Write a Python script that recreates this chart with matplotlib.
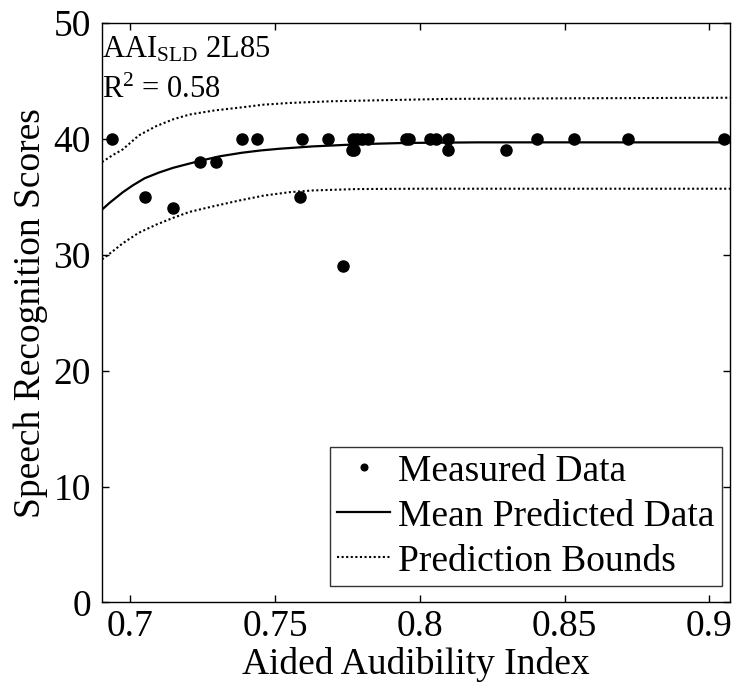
import matplotlib
matplotlib.use("Agg")
import matplotlib.pyplot as plt

plt.rcParams['font.family'] = ['Liberation Serif', 'DejaVu Serif']
plt.rcParams['mathtext.fontset'] = 'custom'
plt.rcParams['mathtext.rm'] = 'Liberation Serif'
plt.rcParams['mathtext.it'] = 'Liberation Serif:italic'

# Measured data
meas_x = [0.6939, 0.7050, 0.7147, 0.7240, 0.7298, 0.7385, 0.7439, 0.7595, 0.7588,
          0.7683, 0.7735, 0.7769, 0.7782, 0.7799, 0.7820, 0.7766, 0.7772,
          0.7954, 0.7963, 0.8034, 0.8055, 0.8099, 0.8096, 0.8297, 0.8403,
          0.8531, 0.8719, 0.9050]
meas_y = [40, 35, 34, 38, 38, 40, 40, 40, 35,
          40, 29, 40, 40, 40, 40, 39, 39,
          40, 40, 40, 40, 40, 39, 39, 40,
          40, 40, 40]

# Mean predicted curve
mean_x = [0.6903, 0.6930, 0.6975, 0.7010, 0.7050, 0.7100, 0.7148, 0.7240, 0.7310,
          0.7385, 0.7450, 0.7516, 0.7630, 0.7800, 0.7950, 0.8200, 0.8600, 0.9071]
mean_y = [33.9, 34.5, 35.4, 36.0, 36.6, 37.1, 37.5, 38.1, 38.5,
          38.8, 39.0, 39.15, 39.35, 39.55, 39.65, 39.7, 39.7, 39.7]

# Prediction bounds
up_x = [0.6903, 0.6940, 0.6975, 0.7030, 0.7090, 0.7150, 0.7205, 0.7290, 0.7378,
        0.7460, 0.7550, 0.7700, 0.7896, 0.8100, 0.8500, 0.9071]
up_y = [38.0, 38.6, 39.1, 40.3, 41.1, 41.7, 42.1, 42.45, 42.7,
        42.95, 43.1, 43.25, 43.35, 43.45, 43.5, 43.55]
lo_x = [0.6903, 0.6940, 0.6975, 0.7030, 0.7090, 0.7150, 0.7205, 0.7290, 0.7380,
        0.7460, 0.7550, 0.7630, 0.7780, 0.8000, 0.8500, 0.9071]
lo_y = [29.6, 30.3, 31.0, 31.9, 32.6, 33.2, 33.7, 34.2, 34.7,
        35.1, 35.4, 35.55, 35.67, 35.7, 35.7, 35.7]

xticks = [0.7, 0.75, 0.8, 0.85, 0.9]
xticklabels = ['0.7', '0.75', '0.8', '0.85', '0.9']
yticks = [0, 10, 20, 30, 40, 50]

fig = plt.figure(figsize=(7.35, 6.82), dpi=100)
ax = fig.add_axes([0.1388, 0.1166, 0.9932 - 0.1388, 0.9663 - 0.1166])

ax.plot(meas_x, meas_y, 'o', color='black', markersize=8, label='Measured Data', zorder=3)
ax.plot(mean_x, mean_y, '-', color='black', lw=1.6, label='Mean Predicted Data')
ax.plot(up_x, up_y, color='black', lw=1.5, linestyle=(0, (1, 1.2)), label='Prediction Bounds')
ax.plot(lo_x, lo_y, color='black', lw=1.5, linestyle=(0, (1, 1.2)))

ax.set_xlim(0.6903, 0.9071)
ax.set_ylim(0, 50)
ax.set_xticks(xticks)
ax.set_xticklabels(xticklabels)
ax.set_yticks(yticks)
ax.tick_params(direction='in', top=True, right=True, length=5, width=1, labelsize=27)
ax.tick_params(axis='x', pad=5)
ax.tick_params(axis='y', pad=8)
for s in ax.spines.values():
    s.set_linewidth(1.0)

ax.set_xlabel('Aided Audibility Index', fontsize=27, labelpad=2)
ax.set_ylabel('Speech Recognition Scores', fontsize=27, labelpad=4)

ax.text(0.0, 0.9405, r'AAI$_{\mathrm{SLD}}$ 2L85', transform=ax.transAxes, fontsize=22, va='baseline', ha='left')
ax.text(0.0, 0.870, r'R$^{2}$ = 0.58', transform=ax.transAxes, fontsize=22, va='baseline', ha='left')

leg = ax.legend(loc='lower right', fontsize=27, frameon=True, fancybox=False,
                edgecolor='black', handlelength=1.41, handletextpad=0.21,
                borderpad=0.2, borderaxespad=0.0, labelspacing=0.28, markerscale=0.6,
                bbox_to_anchor=(0.987, 0.0284))
leg.get_frame().set_linewidth(1.0)

fig.savefig('out.png', dpi=100)
